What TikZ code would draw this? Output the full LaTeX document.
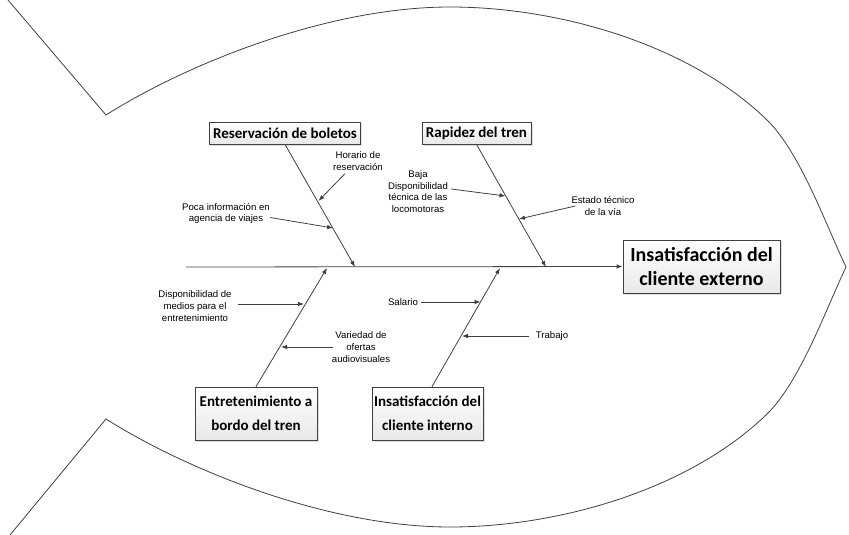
\documentclass[tikz,border=0pt]{standalone}
\usepackage{fontspec}
\setmainfont{Liberation Sans}
\newfontfamily\boxfont{Carlito}
\usetikzlibrary{arrows.meta,shadows}
\definecolor{ln}{HTML}{404040}
\tikzset{
  cause/.style={draw=ln, line width=0.8pt, top color=white, bottom color=gray!18,
    drop shadow={shadow xshift=1.5pt,shadow yshift=-1.5pt,opacity=0.25,fill=gray},
    font=\boxfont\bfseries\fontsize{15}{24}\selectfont, align=center, inner sep=0pt},
  effect/.style={cause, font=\boxfont\bfseries\fontsize{20}{24}\selectfont},
  lbl/.style={font=\fontsize{9.6}{11.8}\selectfont, align=center, inner sep=0pt},
  arr/.style={draw=ln, line width=0.8pt, -{Latex[length=6pt,width=4.5pt]}},
  fish/.style={draw=ln, line width=0.8pt, line join=miter},
}
\begin{document}
\begin{tikzpicture}[x=1pt,y=-1pt]
\useasboundingbox (0,0) rectangle (849,535);
% fish outline
\draw[fish] (8,0) -- (106,115)
  .. controls (190,62) and (330,7) .. (450,7)
  .. controls (560,7) and (690,45) .. (767,120)
  .. controls (800,152) and (826,225) .. (846,267)
  .. controls (826,309) and (800,382) .. (767,414)
  .. controls (690,489) and (560,527) .. (450,527)
  .. controls (330,527) and (190,472) .. (106,419)
  -- (10,535);
% boxes
\node[cause, minimum width=151pt, minimum height=22pt] (res) at (285,133) {Reservación de boletos};
\node[cause, minimum width=109pt, minimum height=22pt] (rap) at (476.5,133) {Rapidez del tren};
\node[effect, minimum width=157pt, minimum height=53pt] (ext) at (701.5,266.5) {Insatisfacción del\\cliente externo};
\node[cause, minimum width=122pt, minimum height=53pt] (ent) at (256,413.5) {Entretenimiento a\\bordo del tren};
\node[cause, minimum width=111pt, minimum height=53pt] (int) at (427.5,413.5) {Insatisfacción del\\cliente interno};
% spine
\coordinate (tail) at (186,267);
\draw[arr] (tail) -- (ext.west);
% bones
\coordinate (t1) at (355,267);
\coordinate (t2) at (546,267);
\coordinate (t3) at (327,268);
\coordinate (t4) at (500,268);
\draw[arr] (res.south) -- (t1);
\draw[arr] (rap.south) -- (t2);
\draw[arr] (ent.north) -- (t3);
\draw[arr] ([xshift=4.5pt]int.north) -- (t4);
% labels
\node[lbl] (hor) at (358,161) {Horario de\\reservación};
\node[lbl] (poca) at (226,213.5) {Poca información en\\agencia de viajes};
\node[lbl] (baja) at (418,191.5) {Baja\\Disponibilidad\\técnica de las\\locomotoras};
\node[lbl] (est) at (603,206) {Estado técnico\\de la vía};
\node[lbl] (disp) at (195,306) {Disponibilidad de\\medios para el\\entretenimiento};
\node[lbl] (var) at (361,347) {Variedad de\\ofertas\\audiovisuales};
\node[lbl] (sal) at (403,302) {Salario};
\node[lbl] (trab) at (552,336) {Trabajo};
% sub-cause arrows
\coordinate (h1) at (318.5,201);
\coordinate (p1) at (333,228);
\coordinate (b1) at (505.5,196);
\coordinate (e1) at (519,219);
\coordinate (d1) at (304,304);
\coordinate (v1) at (281,347);
\coordinate (s1) at (480.5,302);
\coordinate (w1) at (462,336);
\draw[arr] ([xshift=-13pt,yshift=-3pt]hor.south) -- (h1);
\draw[arr] ([yshift=-4pt]poca.east) -- (p1);
\draw[arr] ([xshift=3pt,yshift=2.5pt]baja.east) -- (b1);
\draw[arr] ([xshift=4pt]est.west) -- (e1);
\draw[arr] ([xshift=6pt,yshift=2pt]disp.east) -- (d1);
\draw[arr] ([xshift=1pt]var.west) -- (v1);
\draw[arr] ([xshift=3pt]sal.east) -- (s1);
\draw[arr] ([xshift=-7pt]trab.west) -- (w1);
\end{tikzpicture}
\end{document}
